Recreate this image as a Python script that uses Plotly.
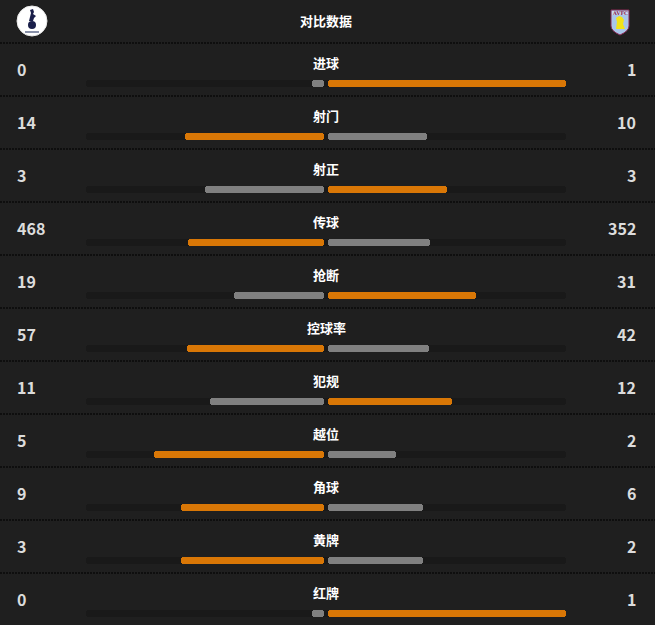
import plotly.graph_objects as go

# ---- data ----
categories = ["进球", "射门", "射正", "传球", "抢断", "控球率", "犯规", "越位", "角球", "黄牌", "红牌"]
home_values = [0, 14, 3, 468, 19, 57, 11, 5, 9, 3, 0]
away_values = [1, 10, 3, 352, 31, 42, 12, 2, 6, 2, 1]
title_text = "对比数据"

# ---- style / layout constants ----
W, H = 655, 625
BG = "#1f1f1f"
TRACK = "#191919"
ORANGE = "#d97706"
GREY = "#808080"
SEP = "#0e0e0e"
FONT = "Noto Sans CJK SC"
CENTER_L, CENTER_R = 324, 328
HALF = 238
TRACK_L, TRACK_R = 86, 566
MIN_LEN = 12
ROW0, PITCH = 43, 53

fig = go.Figure()

bar_y = [ROW0 + 40 + PITCH * i for i in range(len(categories))]
left_len, right_len, left_col, right_col = [], [], [], []
for h, a in zip(home_values, away_values):
    tot = h + a
    ll = max(h / tot * HALF if tot else 0, MIN_LEN)
    rl = max(a / tot * HALF if tot else 0, MIN_LEN)
    left_len.append(-ll)
    right_len.append(rl)
    home_win = h > a
    left_col.append(ORANGE if home_win else GREY)
    right_col.append(GREY if home_win else ORANGE)

# track
fig.add_trace(go.Bar(orientation="h", y=bar_y, x=[TRACK_R - TRACK_L] * len(bar_y),
                     base=[TRACK_L] * len(bar_y), width=7, marker=dict(color=TRACK, line=dict(width=0)),
                     hoverinfo="skip", showlegend=False))
fig.add_trace(go.Bar(orientation="h", y=bar_y, x=left_len, base=[CENTER_L] * len(bar_y), width=7,
                     marker=dict(color=left_col, line=dict(width=0)), hoverinfo="skip", showlegend=False))
fig.add_trace(go.Bar(orientation="h", y=bar_y, x=right_len, base=[CENTER_R] * len(bar_y), width=7,
                     marker=dict(color=right_col, line=dict(width=0)), hoverinfo="skip", showlegend=False))

shapes = []
annotations = []
# separators
for i in range(len(categories) + 1):
    y = ROW0 + PITCH * i
    if y < H:
        shapes.append(dict(type="line", x0=0, x1=W, y0=y, y1=y, xref="x", yref="y",
                           line=dict(color=SEP, width=2, dash="2px,1px"), layer="below"))

for i, (c, h, a) in enumerate(zip(categories, home_values, away_values)):
    yl = ROW0 + 19 + PITCH * i
    yv = ROW0 + 26 + PITCH * i
    annotations.append(dict(x=326, y=yl, text=f"<b>{c}</b>", showarrow=False, xref="x", yref="y",
                            font=dict(family=FONT, size=13, color="#ffffff"), xanchor="center", yanchor="middle"))
    annotations.append(dict(x=15, y=yv, text=f"<b>{h}</b>", showarrow=False, xref="x", yref="y",
                            font=dict(family=FONT, size=16, color="#dcdcdc"), xanchor="left", yanchor="middle"))
    annotations.append(dict(x=638, y=yv, text=f"<b>{a}</b>", showarrow=False, xref="x", yref="y",
                            font=dict(family=FONT, size=16, color="#dcdcdc"), xanchor="right", yanchor="middle"))

annotations.append(dict(x=326, y=20, text=f"<b>{title_text}</b>", showarrow=False, xref="x", yref="y",
                        font=dict(family=FONT, size=13, color="#ffffff"), xanchor="center", yanchor="middle"))

# home logo (Spurs-like)
shapes.append(dict(type="circle", x0=17, x1=47, y0=6, y1=36, xref="x", yref="y",
                   fillcolor="#ffffff", line=dict(color="#e8e8e8", width=1)))
shapes.append(dict(type="circle", x0=28, x1=36, y0=21, y1=29, xref="x", yref="y",
                   fillcolor="#1a1f4a", line=dict(width=0)))
shapes.append(dict(type="path", path="M 29 21 L 31 13 L 30 10 L 33 9 L 34 12 L 33 14 L 36 16 L 34 18 L 33 21 Z",
                   xref="x", yref="y", fillcolor="#1a1f4a", line=dict(width=0)))
shapes.append(dict(type="rect", x0=25, x1=39, y0=31, y1=33, xref="x", yref="y",
                   fillcolor="#8890a8", line=dict(width=0)))

# away logo (Villa-like shield)
shapes.append(dict(type="path", path="M 611 10 L 629 10 L 629 26 Q 629 31 620 35 Q 611 31 611 26 Z",
                   xref="x", yref="y", fillcolor="#a9c6ea", line=dict(color="#8a2a55", width=1)))
shapes.append(dict(type="rect", x0=612, x1=628, y0=11, y1=15, xref="x", yref="y",
                   fillcolor="#c9d8ef", line=dict(width=0)))
annotations.append(dict(x=620, y=13, text="<b>AVFC</b>", showarrow=False, xref="x", yref="y",
                        font=dict(family="DejaVu Serif", size=5, color="#8a2a55"), xanchor="center", yanchor="middle"))
shapes.append(dict(type="path", path="M 616 29 L 617 22 L 616 18 L 619 16 L 622 17 L 624 20 L 623 24 L 625 29 Z",
                   xref="x", yref="y", fillcolor="#f2e21a", line=dict(width=0)))

fig.update_layout(
    width=W, height=H, margin=dict(l=0, r=0, t=0, b=0),
    paper_bgcolor=BG, plot_bgcolor=BG,
    barmode="overlay", barcornerradius=4, bargap=0,
    xaxis=dict(range=[0, W], visible=False, fixedrange=True),
    yaxis=dict(range=[H, 0], visible=False, fixedrange=True),
    shapes=shapes, annotations=annotations, showlegend=False,
)

fig.write_html("out.html")
